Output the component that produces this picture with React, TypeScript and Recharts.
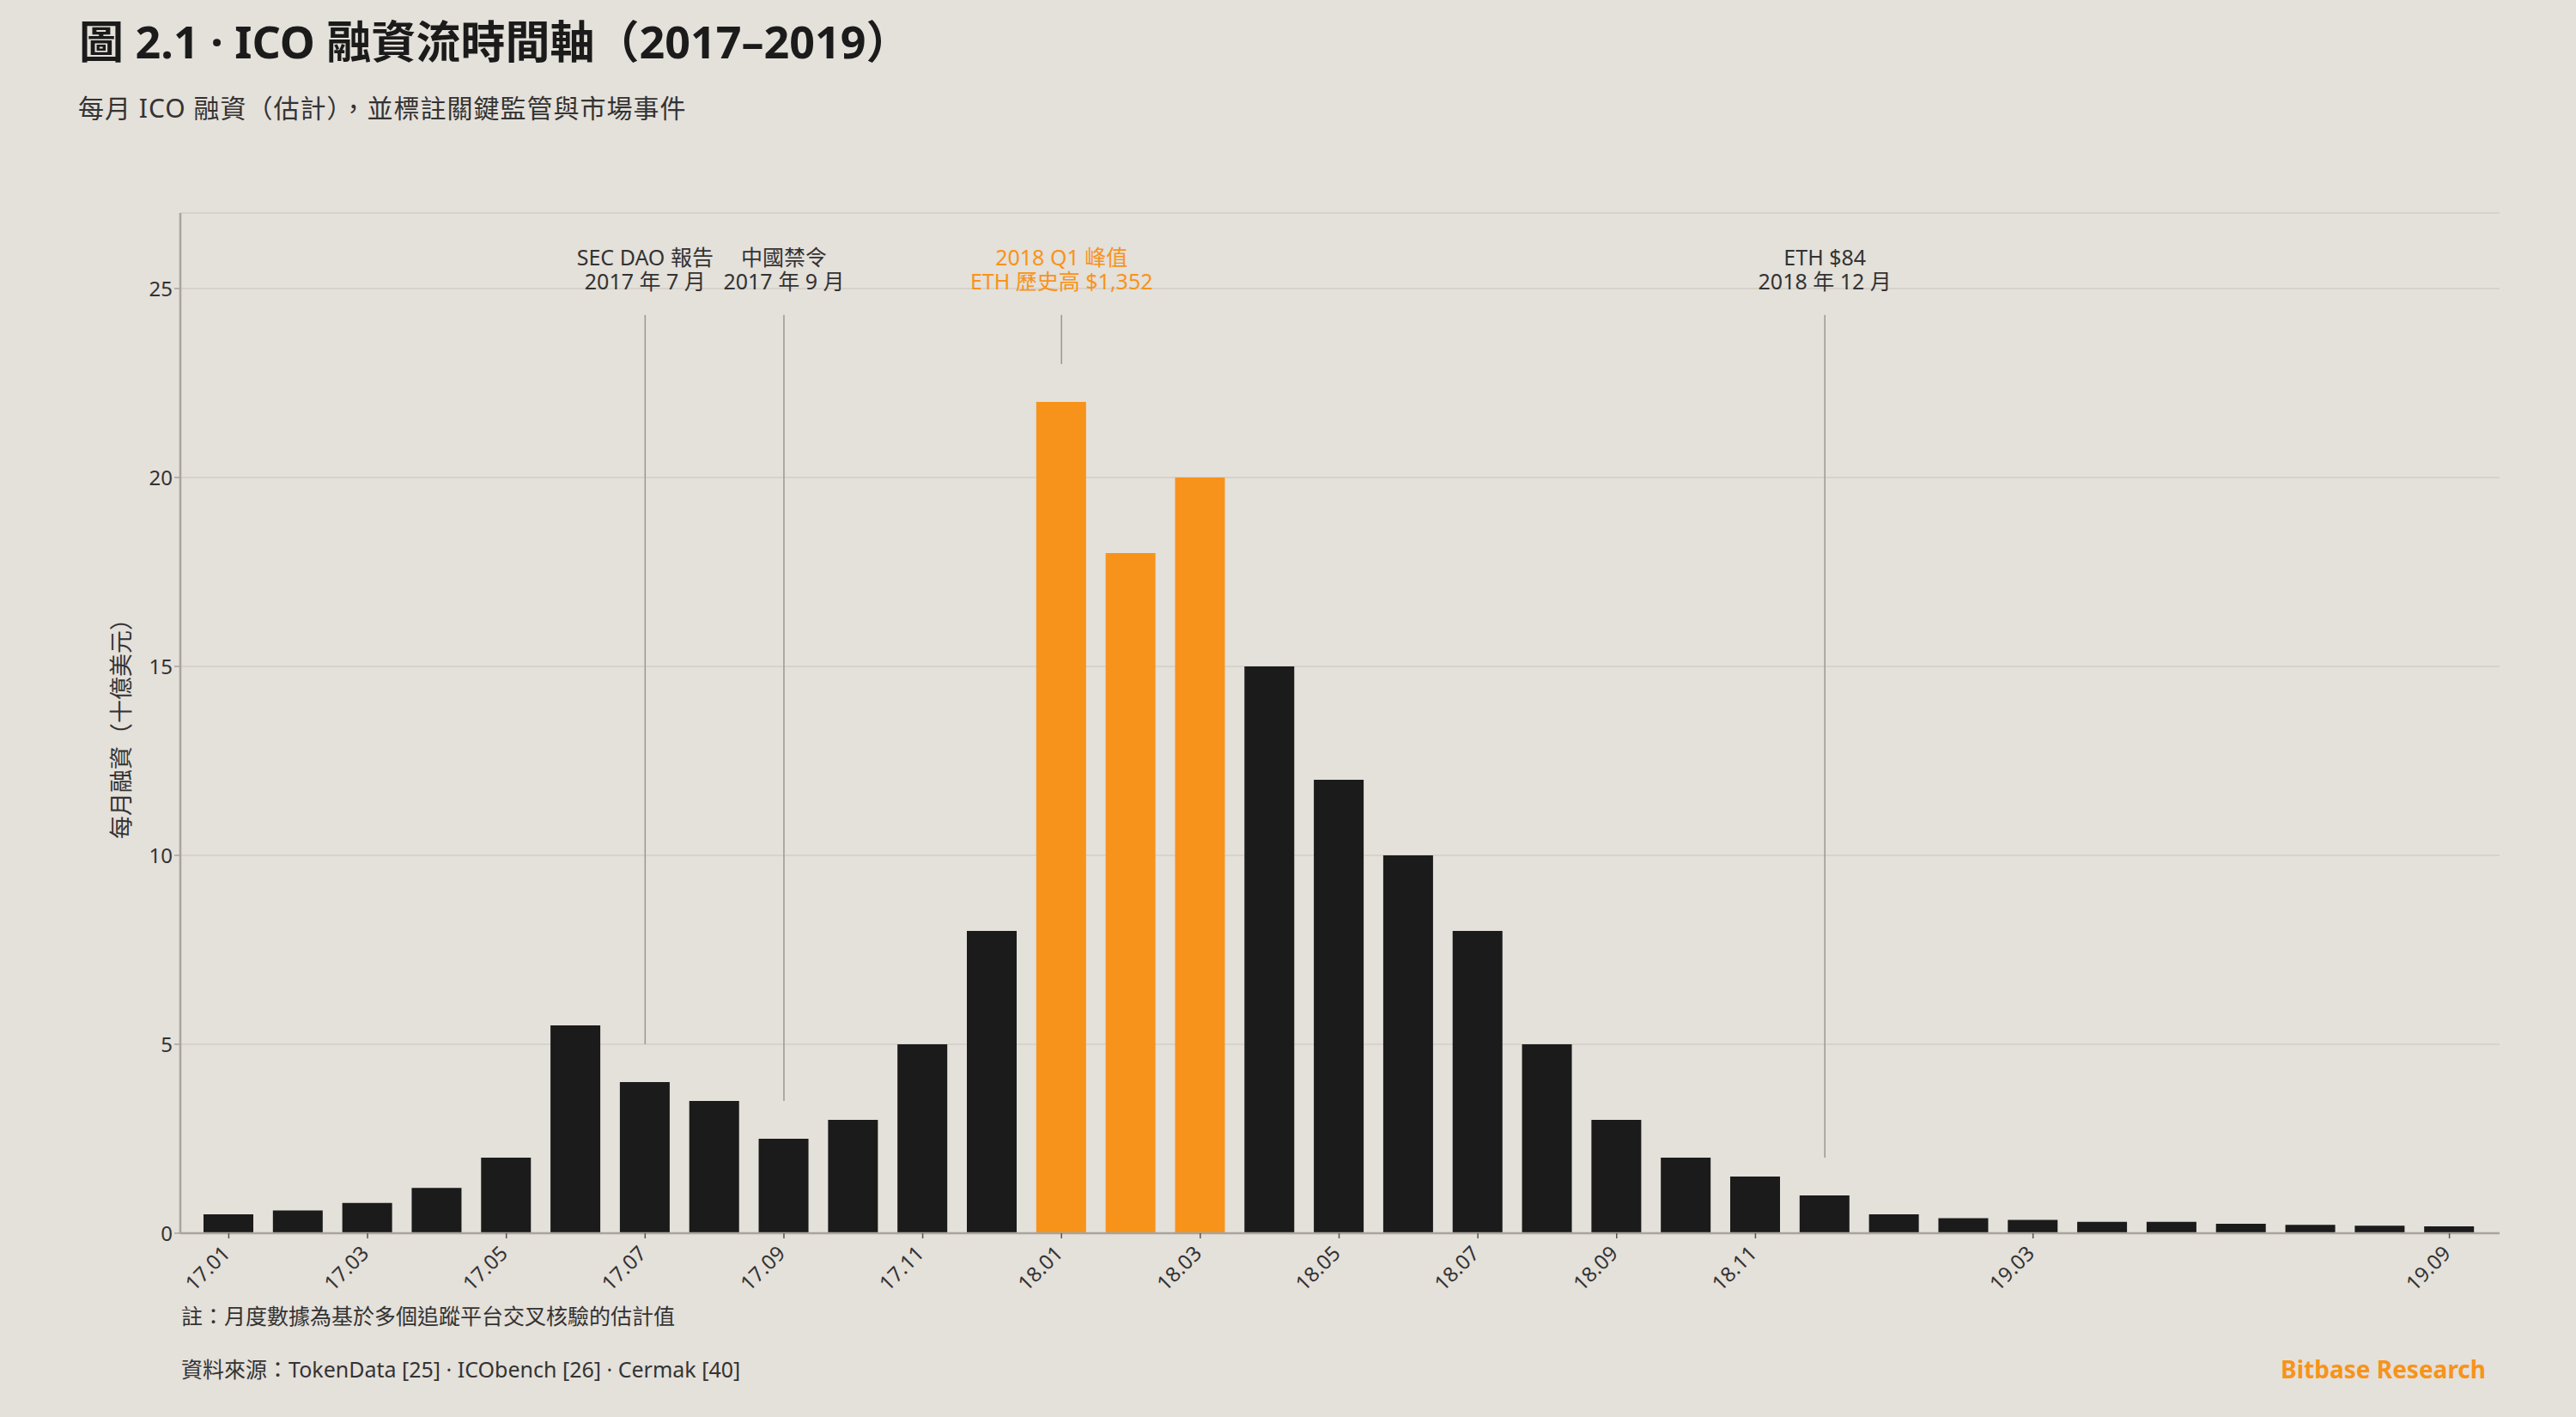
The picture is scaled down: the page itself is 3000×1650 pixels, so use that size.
import React from "react";
import { BarChart, Bar, Cell, XAxis, YAxis, CartesianGrid, ReferenceLine } from "recharts";

const months = [
  "17.01", "17.02", "17.03", "17.04", "17.05", "17.06", "17.07", "17.08", "17.09", "17.10", "17.11", "17.12",
  "18.01", "18.02", "18.03", "18.04", "18.05", "18.06", "18.07", "18.08", "18.09", "18.10", "18.11", "18.12",
  "19.01", "19.02", "19.03", "19.04", "19.05", "19.06", "19.07", "19.08", "19.09",
];
const funding = [
  0.5, 0.6, 0.8, 1.2, 2.0, 5.5, 4.0, 3.5, 2.5, 3.0, 5.0, 8.0,
  22, 18, 20, 15, 12, 10, 8, 5, 3, 2, 1.5, 1.0,
  0.5, 0.4, 0.35, 0.3, 0.3, 0.25, 0.22, 0.2, 0.18,
];
const peakMonths = ["18.01", "18.02", "18.03"];
const xTicks = ["17.01", "17.03", "17.05", "17.07", "17.09", "17.11", "18.01", "18.03", "18.05", "18.07", "18.09", "18.11", "19.03", "19.09"];
const yTicks = [0, 5, 10, 15, 20, 25];

// event markers
const eventMonths = ["17.07", "17.09", "18.01", "18.12"];
const eventEnds = [5, 3.5, 23, 2];
const eventTitles = ["SEC DAO 報告", "中國禁令", "2018 Q1 峰值", "ETH $84"];
const eventDates = ["2017 年 7 月", "2017 年 9 月", "ETH 歷史高 $1,352", "2018 年 12 月"];
const eventHot = [false, false, true, false];
const eventTop = 24.3;

const BG = "#e4e0da";
const INK = "#1b1b1b";
const ORANGE = "#f7931a";
const TEXT = "#333333";
const FONT = "'Noto Sans', 'Noto Sans CJK TC', sans-serif";

const data = months.map((m, i) => ({ month: m, value: funding[i] }));

const XTick = (props: any) => {
  const { x, y, payload } = props;
  const px = x + 3;
  const py = y + 17;
  return (
    <text x={px} y={py} transform={`rotate(-45 ${px} ${py})`} textAnchor="end" fill={TEXT} fontSize={24} fontFamily={FONT}>
      {payload.value}
    </text>
  );
};

const eventLabel = (i: number) => (props: any) => {
  const vb = props.viewBox || {};
  const cx = vb.x1 != null ? (vb.x1 + vb.x2) / 2 : vb.x + (vb.width || 0) / 2;
  const top = vb.y1 != null ? Math.min(vb.y1, vb.y2) : vb.y;
  const color = eventHot[i] ? ORANGE : TEXT;
  return (
    <g>
      <text x={cx} y={top - 58} textAnchor="middle" fill={color} fontSize={25} fontFamily={FONT}>{eventTitles[i]}</text>
      <text x={cx} y={top - 30} textAnchor="middle" fill={color} fontSize={25} fontFamily={FONT}>{eventDates[i]}</text>
    </g>
  );
};

const YLabel = (props: any) => {
  const vb = props.viewBox || {};
  const cx = 140;
  const cy = vb.y + vb.height / 2;
  return (
    <text x={cx} y={cy} transform={`rotate(-90 ${cx} ${cy})`} textAnchor="middle" dominantBaseline="central" fill={TEXT} fontSize={27} fontFamily={FONT}>
      每月融資（十億美元）
    </text>
  );
};

export default function App() {
  return (
    <div style={{ position: "absolute", left: 0, top: 0, width: 3000, height: 1650, background: BG, fontFamily: FONT, overflow: "hidden" }}>
      <div style={{ position: "absolute", left: 92, top: 22, fontSize: 52, fontWeight: 700, color: INK, lineHeight: 1, whiteSpace: "nowrap" }}>
        圖 2.1 · ICO 融資流時間軸（2017–2019）
      </div>
      <div style={{ position: "absolute", left: 91, top: 111, fontSize: 30, letterSpacing: 1, color: TEXT, lineHeight: 1, whiteSpace: "nowrap" }}>
        每月 ICO 融資（估計），並標註關鍵監管與市場事件
      </div>

      <div style={{ position: "absolute", left: 0, top: 0 }}>
        <BarChart width={3000} height={1650} data={data} margin={{ top: 248, right: 89, left: 0, bottom: 134 }}>
          <CartesianGrid vertical={false} stroke="#d3cec7" strokeWidth={1.5} />
          <XAxis
            dataKey="month"
            ticks={xTicks}
            interval={0}
            height={80}
            padding={{ left: 16, right: 18 }}
            tick={<XTick />}
            tickSize={6}
            tickLine={{ stroke: "#555", strokeWidth: 1.5 }}
            axisLine={{ stroke: "#a9a49d", strokeWidth: 2.5 }}
          />
          <YAxis
            width={210}
            domain={[0, 27]}
            ticks={yTicks}
            allowDataOverflow
            tickSize={7}
            tick={{ fill: TEXT, fontSize: 24, fontFamily: FONT }}
            tickLine={{ stroke: "#a9a49d", strokeWidth: 1.5 }}
            axisLine={{ stroke: "#a9a49d", strokeWidth: 2.5 }}
            label={{ content: (p: any) => <YLabel {...p} /> }}
          />
          <Bar dataKey="value" barSize={58} isAnimationActive={false}>
            {data.map((d) => (
              <Cell key={d.month} fill={peakMonths.includes(d.month) ? ORANGE : INK} />
            ))}
          </Bar>
          {eventMonths.map((m, i) => (
            <ReferenceLine
              key={m}
              segment={[{ x: m, y: eventTop }, { x: m, y: eventEnds[i] }]}
              stroke="#9a9792"
              strokeWidth={1.5}
              label={{ content: eventLabel(i) }}
            />
          ))}
        </BarChart>
      </div>

      <div style={{ position: "absolute", left: 211, top: 1520, fontSize: 25, color: TEXT, lineHeight: 1, whiteSpace: "nowrap" }}>
        註：月度數據為基於多個追蹤平台交叉核驗的估計值
      </div>
      <div style={{ position: "absolute", left: 211, top: 1582, fontSize: 25, color: TEXT, lineHeight: 1, whiteSpace: "nowrap" }}>
        資料來源：TokenData [25] · ICObench [26] · Cermak [40]
      </div>
      <div style={{ position: "absolute", right: 105, top: 1580, fontSize: 28, fontWeight: 700, color: ORANGE, lineHeight: 1, whiteSpace: "nowrap" }}>
        Bitbase Research
      </div>
    </div>
  );
}
